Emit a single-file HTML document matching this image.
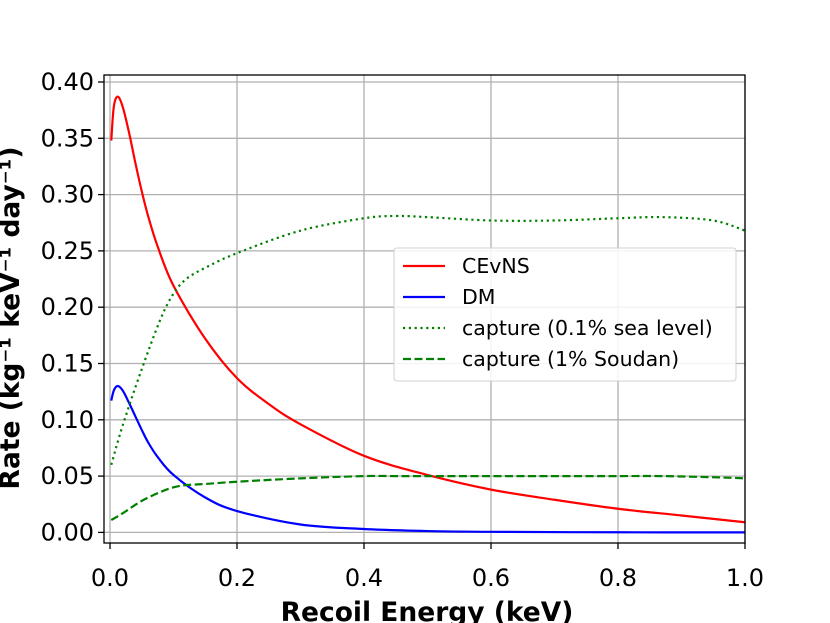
<!DOCTYPE html>
<html><head><meta charset="utf-8"><style>
body{margin:0;background:#fff;}
svg{display:block;font-family:"DejaVu Sans","Liberation Sans",sans-serif;}
</style></head><body>
<svg id="chart" width="830" height="623">
<g id="grid"></g><g id="series"></g><g id="axes"></g><g id="legend"></g>
</svg>
<script>
const xTicks=[0,0.2,0.4,0.6,0.8,1.0];
const xTickLabels=["0.0","0.2","0.4","0.6","0.8","1.0"];
const yTicks=[0,0.05,0.1,0.15,0.2,0.25,0.3,0.35,0.4];
const yTickLabels=["0.00","0.05","0.10","0.15","0.20","0.25","0.30","0.35","0.40"];
const xsCevns=[0.002,0.006,0.012,0.02,0.03,0.04,0.05,0.06,0.075,0.1,0.15,0.2,0.25,0.3,0.4,0.5,0.6,0.7,0.8,0.9,1.0];
const cevns=[0.348,0.378,0.387,0.378,0.355,0.328,0.303,0.281,0.254,0.219,0.172,0.137,0.114,0.096,0.068,0.051,0.038,0.029,0.021,0.015,0.009];
const xsDm=[0.002,0.006,0.012,0.02,0.03,0.04,0.05,0.06,0.075,0.1,0.15,0.2,0.3,0.4,0.5,0.6,0.8,1.0];
const dm=[0.117,0.126,0.13,0.126,0.115,0.103,0.091,0.08,0.067,0.051,0.031,0.019,0.007,0.003,0.0012,0.0005,0.0001,0];
const xsCap=[0.002,0.02,0.05,0.08,0.1,0.12,0.15,0.2,0.3,0.4,0.45,0.5,0.6,0.7,0.8,0.87,0.95,1.0];
const capSea=[0.06,0.095,0.145,0.19,0.212,0.225,0.235,0.248,0.268,0.279,0.281,0.28,0.277,0.277,0.279,0.28,0.277,0.268];
const capSoudan=[0.011,0.017,0.028,0.036,0.04,0.042,0.043,0.045,0.048,0.05,0.05,0.05,0.05,0.05,0.05,0.05,0.049,0.048];
const NS="http://www.w3.org/2000/svg";
const L=104,R=745,T=75,B=543;
const xs=v=>110+v*635;
const ys=v=>532.4-v*1126;
function mk(p,t,a){const e=document.createElementNS(NS,t);for(const k in a)e.setAttribute(k,a[k]);document.getElementById(p).appendChild(e);return e;}
xTicks.forEach((t,i)=>{
 const g=mk('grid','line',{x1:xs(t),x2:xs(t),y1:T,y2:B,stroke:'#b0b0b0','stroke-width':1.3});
 
 
 const tk=mk('axes','line',{x1:xs(t),x2:xs(t),y1:B,y2:B+6,stroke:'#000','stroke-width':1.3});
 
 
 const tx=mk('axes','text',{x:xs(t),y:B+43,'text-anchor':'middle','font-size':24});
 tx.textContent=xTickLabels[i];
 
 
});
yTicks.forEach((t,i)=>{
 const g=mk('grid','line',{x1:L,x2:R,y1:ys(t),y2:ys(t),stroke:'#b0b0b0','stroke-width':1.3});
 
 
 const tk=mk('axes','line',{x1:L-6,x2:L,y1:ys(t),y2:ys(t),stroke:'#000','stroke-width':1.3});
 
 
 const tx=mk('axes','text',{x:L-10,y:ys(t)+8,'text-anchor':'end','font-size':24});
 tx.textContent=yTickLabels[i];
 
 
});
const fr=mk('axes','rect',{x:L,y:T,width:R-L,height:B-T,fill:'none',stroke:'#000','stroke-width':1.3});


function smooth(xa,ya){
 const p=xa.map((x,i)=>[xs(x),ys(ya[i])]);
 let d='M'+p[0][0]+','+p[0][1];
 for(let i=0;i<p.length-1;i++){
  const p0=p[i-1]||p[i],p1=p[i],p2=p[i+1],p3=p[i+2]||p2;
  d+=' C'+(p1[0]+(p2[0]-p0[0])/6)+','+(p1[1]+(p2[1]-p0[1])/6)+' '+(p2[0]-(p3[0]-p1[0])/6)+','+(p2[1]-(p3[1]-p1[1])/6)+' '+p2[0]+','+p2[1];
 }
 return d;
}
const s1=mk('series','path',{d:smooth(xsCevns,cevns),fill:'none',stroke:'#ff0000','stroke-width':2.2});


const s2=mk('series','path',{d:smooth(xsDm,dm),fill:'none',stroke:'#0000ff','stroke-width':2.2});


const s3=mk('series','path',{d:smooth(xsCap,capSea),fill:'none',stroke:'#008000','stroke-width':2.2,'stroke-dasharray':'2.2,3.6'});


const s4=mk('series','path',{d:smooth(xsCap,capSoudan),fill:'none',stroke:'#008000','stroke-width':2.2,'stroke-dasharray':'8,3.5'});


</script>
<svg style="position:absolute;left:0;top:0" width="830" height="623">
<g font-family="DejaVu Sans, Liberation Sans, sans-serif" font-size="20.5">
<rect x="394" y="248" width="342" height="133" rx="3" fill="#fff" fill-opacity="0.85" stroke="#d0d0d0"/>
<line x1="403" x2="445" y1="266" y2="266" stroke="#ff0000" stroke-width="2.2"/>
<text x="462" y="273">CEvNS</text>
<line x1="403" x2="445" y1="297" y2="297" stroke="#0000ff" stroke-width="2.2"/>
<text x="462" y="304">DM</text>
<line x1="403" x2="445" y1="328" y2="328" stroke="#008000" stroke-width="2.2" stroke-dasharray="2.2,3.6"/>
<text x="462" y="335">capture (0.1% sea level)</text>
<line x1="403" x2="445" y1="359" y2="359" stroke="#008000" stroke-width="2.2" stroke-dasharray="8,3.5"/>
<text x="462" y="366">capture (1% Soudan)</text>
</g>
<text x="427" y="621" text-anchor="middle" font-family="DejaVu Sans, Liberation Sans, sans-serif" font-weight="bold" font-size="26.5">Recoil Energy (keV)</text>
<text transform="translate(19,318) rotate(-90)" text-anchor="middle" font-family="DejaVu Sans, Liberation Sans, sans-serif" font-weight="bold" font-size="26.5">Rate (kg⁻¹ keV⁻¹ day⁻¹)</text>
</svg>
</body></html>
